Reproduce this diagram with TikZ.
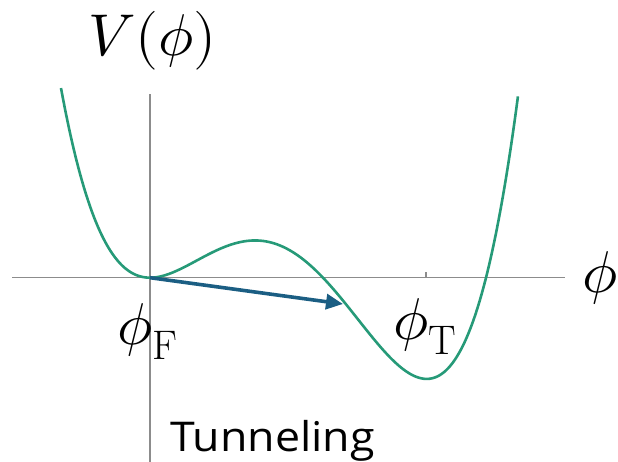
\documentclass[tikz,border=0pt]{standalone}
\usepackage{fontspec}
\usepackage{unicode-math}
\setmathfont{Latin Modern Math}
\newfontfamily\tunfont{Open Sans}
\usetikzlibrary{arrows.meta}
\definecolor{curvegreen}{RGB}{38,154,120}
\definecolor{arrowblue}{RGB}{27,94,131}
\definecolor{axisgray}{RGB}{140,140,140}
\begin{document}
\begin{tikzpicture}[x=1pt,y=1pt,
  axisline/.style={draw=axisgray,line width=1.3pt},
  curveline/.style={draw=curvegreen,line width=2.6pt},
  tunnelarrow/.style={draw=arrowblue,line width=3.6pt,-{Triangle[length=17pt,width=15pt]}},
  mathlabel/.style={anchor=base west,inner sep=0pt,font=\fontsize{59}{70}\selectfont},
  textlabel/.style={anchor=base west,inner sep=0pt,font=\tunfont\fontsize{41}{48}\selectfont}]
\useasboundingbox (0,0) rectangle (618,462);
\coordinate (O) at (150,184.3);
\coordinate (xl) at (12,184.3);
\coordinate (xr) at (565,184.3);
\coordinate (yb) at (150,0);
\coordinate (yt) at (150,368);
\coordinate (tick) at (426,184.3);
\coordinate (ticktop) at (426,190.3);
\coordinate (A) at (343,158);
\draw[axisline] (xl) -- (xr);
\draw[axisline] (yb) -- (yt);
\draw[axisline] (tick) -- (ticktop);
\draw[curveline] plot[domain=-0.89:3.68,samples=240]
  ({150+100*\x},{184.3+21.5*\x*\x*(\x-1.73)*(\x-3.36)});
\draw[tunnelarrow] (O) -- (A);
\node[mathlabel] (V) at (88,406) {$V(\phi)$};
\node[mathlabel] (phix) at (582,169) {$\phi$};
\node[mathlabel] (phiF) at (117,117) {$\phi_{\mathrm{F}}$};
\node[mathlabel] (phiT) at (393,122) {$\phi_{\mathrm{T}}$};
\node[textlabel] (tun) at (170,10.3) {\scalebox{1.09}[1]{Tunneling}};
\end{tikzpicture}
\end{document}
